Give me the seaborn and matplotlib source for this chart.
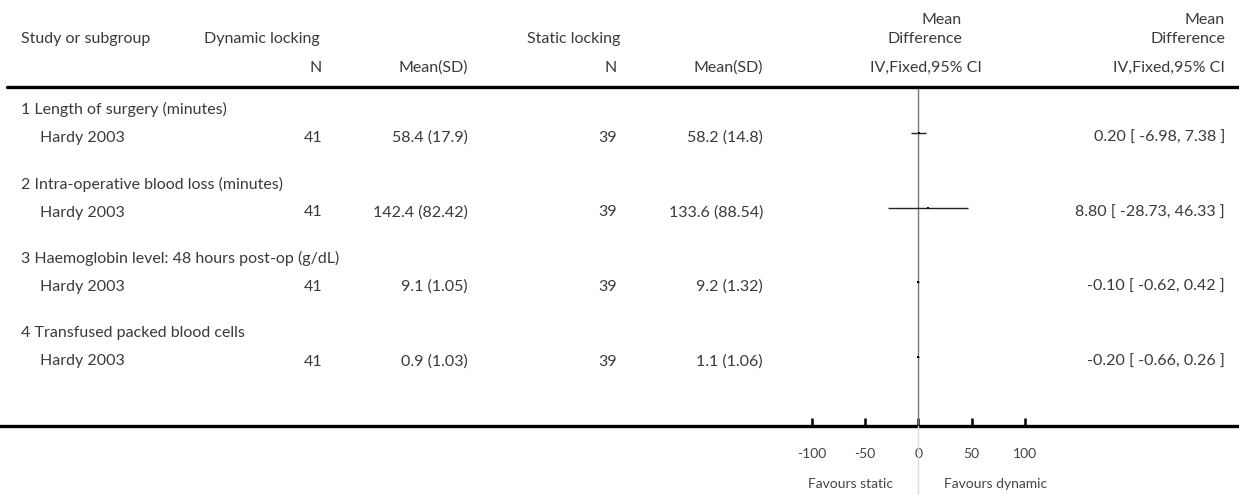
import numpy as np
import pandas as pd
import matplotlib.pyplot as plt
import seaborn as sns
from matplotlib.lines import Line2D

# Dados da figura (forest plot)
grupos = ['1 Length of surgery (minutes)',
          '2 Intra-operative blood loss (minutes)',
          '3 Haemoglobin level: 48 hours post-op (g/dL)',
          '4 Transfused packed blood cells']
estudos = ['Hardy 2003', 'Hardy 2003', 'Hardy 2003', 'Hardy 2003']
dyn_n = [41, 41, 41, 41]
dyn_media_dp = ['58.4 (17.9)', '142.4 (82.42)', '9.1 (1.05)', '0.9 (1.03)']
sta_n = [39, 39, 39, 39]
sta_media_dp = ['58.2 (14.8)', '133.6 (88.54)', '9.2 (1.32)', '1.1 (1.06)']
md = [0.20, 8.80, -0.10, -0.20]
ic_inf = [-6.98, -28.73, -0.62, -0.66]
ic_sup = [7.38, 46.33, 0.42, 0.26]
ticks = [-100, -50, 0, 50, 100]

sns.set_style('white')
plt.rcParams['font.family'] = ['Lato', 'DejaVu Sans']

W, H = 1239, 495
fig = plt.figure(figsize=(W / 100, H / 100), dpi=100)

COR = '#3a3a3a'
FS = 11.5


def txt(x, y, s, ha='left', size=FS, color=COR):
    fig.text(x / W, 1 - y / H, s, ha=ha, va='center', fontsize=size, color=color)


# cabeçalho
txt(21, 39, 'Study or subgroup')
txt(204, 39, 'Dynamic locking')
txt(620, 39, 'Static locking', ha='right')
txt(962, 20, 'Mean', ha='right')
txt(962, 39, 'Difference', ha='right')
txt(1225, 20, 'Mean', ha='right')
txt(1225, 39, 'Difference', ha='right')
txt(322, 68, 'N', ha='right')
txt(468, 68, 'Mean(SD)', ha='right')
txt(617, 68, 'N', ha='right')
txt(763, 68, 'Mean(SD)', ha='right')
txt(982, 68, 'IV,Fixed,95% CI', ha='right')
txt(1225, 68, 'IV,Fixed,95% CI', ha='right')

fig.add_artist(Line2D([7 / W, 1], [1 - 87 / H, 1 - 87 / H], color='black', lw=2.4,
                      transform=fig.transFigure))

# linhas dos estudos (posição vertical em pixels a partir do topo)
y_grupo = [109.5 + 74.5 * i for i in range(4)]
y_estudo = [y + 23.5 for y in y_grupo]

for i in range(4):
    txt(21, y_grupo[i], grupos[i])
    yt = y_estudo[i] + 5
    txt(40, yt, estudos[i])
    txt(322, yt, str(dyn_n[i]), ha='right')
    txt(468, yt, dyn_media_dp[i], ha='right')
    txt(617, yt, str(sta_n[i]), ha='right')
    txt(763, yt, sta_media_dp[i], ha='right')
    txt(1225, yt, f'{md[i]:.2f} [ {ic_inf[i]:.2f}, {ic_sup[i]:.2f} ]', ha='right')

# eixo do forest plot
x0, escala = 918.3, 1.0667
ax = fig.add_axes([0, (H - 426) / H, 1, (426 - 87) / H])
ax.set_xlim(-x0 / escala, (W - x0) / escala)
ax.set_ylim(426, 87)

df = pd.DataFrame({'md': md, 'lo': ic_inf, 'hi': ic_sup, 'y': y_estudo})
ax.axvline(0, color='#777777', lw=1.0, zorder=1)
ax.hlines(df['y'], df['lo'], df['hi'], color='#222222', lw=1.0, zorder=2)
sns.scatterplot(data=df, x='md', y='y', marker='s', s=3, color='black',
                edgecolor='black', linewidth=0, ax=ax, zorder=3, legend=False)

for lado in ['top', 'left', 'right']:
    ax.spines[lado].set_visible(False)
ax.spines['bottom'].set_linewidth(2.4)
ax.spines['bottom'].set_color('black')
ax.set_yticks([])
ax.set_xticks(ticks)
ax.set_xticklabels(['-100', '-50', '0', '50', '100'])
ax.tick_params(axis='x', direction='in', length=6, width=1.8, color='black',
               labelsize=10, labelcolor='#444444', pad=16, bottom=True)
ax.set_xlabel('')
ax.set_ylabel('')

# linha do zero abaixo do eixo
fig.add_artist(Line2D([x0 / W, x0 / W], [0, (H - 426) / H], color='#dddddd', lw=1.0,
                      transform=fig.transFigure))

txt(850, 484, 'Favours static', ha='center', size=10, color='#444444')
txt(996, 484, 'Favours dynamic', ha='center', size=10, color='#444444')

fig.savefig('out.png', dpi=100)
